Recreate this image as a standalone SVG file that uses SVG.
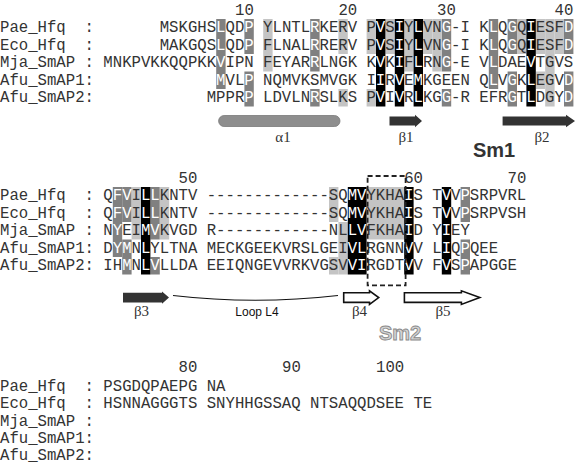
<svg xmlns="http://www.w3.org/2000/svg" width="576" height="465" viewBox="0 0 576 465" xml:space="preserve">
<style>
.s{font-family:"Liberation Mono","Courier New",monospace;font-size:15.67px;fill:#333;white-space:pre}
.w{fill:#fff}
.dk{fill:#808080}
.bk{fill:#000}
.lt{fill:#c4c4c4}
.gr{font-family:"Liberation Serif","Times New Roman",serif;font-size:15px;fill:#333;text-anchor:middle}
.sm{font-family:"Liberation Sans",Arial,sans-serif;font-size:20px;font-weight:bold;text-anchor:middle}
.ar{fill:#333}
.ow{fill:#fff;stroke:#111;stroke-width:1.6}
</style>
<rect width="576" height="465" fill="#fff"/>
<g id="block1">
<g id="shade1">
<rect class="dk" x="216.2" y="19" width="9.4" height="70"/>
<rect class="dk" x="244.4" y="19" width="9.4" height="35"/>
<rect class="dk" x="244.4" y="71.5" width="9.4" height="35"/>
<rect class="dk" x="310.2" y="19" width="9.4" height="52.5"/>
<rect class="dk" x="310.2" y="89" width="9.4" height="17.5"/>
<rect class="dk" x="441.8" y="19" width="9.4" height="52.5"/>
<rect class="dk" x="441.8" y="89" width="9.4" height="17.5"/>
<rect class="dk" x="488.8" y="19" width="9.4" height="70"/>
<rect class="dk" x="507.6" y="19" width="9.4" height="35"/>
<rect class="dk" x="507.6" y="71.5" width="9.4" height="35"/>
<rect class="dk" x="564" y="19" width="9.4" height="35"/>
<rect class="dk" x="564" y="71.5" width="9.4" height="35"/>
<rect class="lt" x="263.2" y="19" width="9.4" height="52.5"/>
<rect class="lt" x="338.4" y="19" width="9.4" height="35"/>
<rect class="lt" x="338.4" y="89" width="9.4" height="17.5"/>
<rect class="lt" x="366.6" y="19" width="9.4" height="35"/>
<rect class="lt" x="366.6" y="89" width="9.4" height="17.5"/>
<rect class="lt" x="385.4" y="19" width="9.4" height="35"/>
<rect class="lt" x="404.2" y="19" width="9.4" height="52.5"/>
<rect class="lt" x="423" y="19" width="9.4" height="35"/>
<rect class="lt" x="432.4" y="19" width="9.4" height="52.5"/>
<rect class="lt" x="517" y="19" width="9.4" height="35"/>
<rect class="lt" x="535.8" y="19" width="9.4" height="35"/>
<rect class="lt" x="535.8" y="71.5" width="9.4" height="17.5"/>
<rect class="lt" x="545.2" y="19" width="9.4" height="87.5"/>
<rect class="lt" x="554.6" y="19" width="9.4" height="35"/>
<rect class="bk" x="376" y="19" width="9.4" height="87.5"/>
<rect class="bk" x="394.8" y="19" width="9.4" height="87.5"/>
<rect class="bk" x="413.6" y="19" width="9.4" height="87.5"/>
<rect class="bk" x="526.4" y="19" width="9.4" height="87.5"/>
</g>
<text class="s" x="235" y="15">10</text>
<text class="s" x="338.4" y="15">20</text>
<text class="s" x="437" y="15">30</text>
<text class="s" x="554.6" y="15">40</text>
<text class="s" x="0" y="32">Pae_Hfq  :       MSKGHS<tspan class="w">L</tspan>QD<tspan class="w">P</tspan> YLNTL<tspan class="w">R</tspan>KERV P<tspan class="w">V</tspan>S<tspan class="w">I</tspan>Y<tspan class="w">L</tspan>VN<tspan class="w">G</tspan>-I K<tspan class="w">L</tspan>Q<tspan class="w">G</tspan>Q<tspan class="w">I</tspan>ESF<tspan class="w">D</tspan></text>
<text class="s" x="0" y="49.5">Eco_Hfq  :       MAKGQS<tspan class="w">L</tspan>QD<tspan class="w">P</tspan> FLNAL<tspan class="w">R</tspan>RERV P<tspan class="w">V</tspan>S<tspan class="w">I</tspan>Y<tspan class="w">L</tspan>VN<tspan class="w">G</tspan>-I K<tspan class="w">L</tspan>Q<tspan class="w">G</tspan>Q<tspan class="w">I</tspan>ESF<tspan class="w">D</tspan></text>
<text class="s" x="0" y="67">Mja_SmAP : MNKPVKKQQPKK<tspan class="w">V</tspan>IPN FEYAR<tspan class="w">R</tspan>LNGK K<tspan class="w">V</tspan>K<tspan class="w">I</tspan>F<tspan class="w">L</tspan>RN<tspan class="w">G</tspan>-E V<tspan class="w">L</tspan>DAE<tspan class="w">V</tspan>TGVS</text>
<text class="s" x="0" y="84.5">Afu_SmAP1:             <tspan class="w">M</tspan>VL<tspan class="w">P</tspan> NQMVKSMVGK I<tspan class="w">I</tspan>R<tspan class="w">V</tspan>E<tspan class="w">M</tspan>KGEEN Q<tspan class="w">L</tspan>V<tspan class="w">G</tspan>K<tspan class="w">L</tspan>EGV<tspan class="w">D</tspan></text>
<text class="s" x="0" y="102">Afu_SmAP2:            MPPR<tspan class="w">P</tspan> LDVLN<tspan class="w">R</tspan>SLKS P<tspan class="w">V</tspan>I<tspan class="w">V</tspan>R<tspan class="w">L</tspan>KG<tspan class="w">G</tspan>-R EFR<tspan class="w">G</tspan>T<tspan class="w">L</tspan>DGY<tspan class="w">D</tspan></text>
<g id="ss1">
<rect x="218.6" y="115.5" width="121.4" height="11" rx="5.5" fill="#8e8e8e" stroke="#7a7a7a" stroke-width="0.8"/>
<text class="gr" x="283" y="142">α1</text>
<polygon class="ar" points="389.5,116.6 415,116.6 415,114.8 422,121 415,127.3 415,125.4 389.5,125.4"/>
<text class="gr" x="406" y="142">β1</text>
<polygon class="ar" points="502.6,116.6 566,116.6 566,114.8 575,121 566,127.3 566,125.4 502.6,125.4"/>
<text class="gr" x="542" y="142">β2</text>
<text class="sm" x="494" y="157" fill="#333">Sm1</text>
</g>
</g>
<g id="block2">
<g id="shade2">
<rect class="dk" x="112.8" y="187" width="9.4" height="70"/>
<rect class="dk" x="122.2" y="187" width="9.4" height="35"/>
<rect class="dk" x="122.2" y="239.5" width="9.4" height="35"/>
<rect class="dk" x="150.4" y="187" width="9.4" height="52.5"/>
<rect class="dk" x="150.4" y="257" width="9.4" height="17.5"/>
<rect class="dk" x="460.6" y="187" width="9.4" height="35"/>
<rect class="dk" x="460.6" y="239.5" width="9.4" height="35"/>
<rect class="lt" x="131.6" y="187" width="9.4" height="52.5"/>
<rect class="lt" x="159.8" y="187" width="9.4" height="52.5"/>
<rect class="lt" x="329" y="187" width="9.4" height="35"/>
<rect class="lt" x="329" y="257" width="9.4" height="17.5"/>
<rect class="lt" x="338.4" y="222" width="9.4" height="52.5"/>
<rect class="lt" x="366.6" y="187" width="37.6" height="52.5"/>
<rect class="bk" x="141" y="187" width="9.4" height="87.5"/>
<rect class="bk" x="347.8" y="187" width="18.8" height="87.5"/>
<rect class="bk" x="404.2" y="187" width="9.4" height="87.5"/>
<rect class="bk" x="441.8" y="187" width="9.4" height="87.5"/>
</g>
<text class="s" x="178.6" y="183">50</text>
<text class="s" x="404.2" y="183">60</text>
<text class="s" x="507.6" y="183">70</text>
<text class="s" x="0" y="200">Pae_Hfq  : Q<tspan class="w">FV</tspan>I<tspan class="w">LL</tspan>KNTV -------------SQ<tspan class="w">MV</tspan>YKHA<tspan class="w">I</tspan>S T<tspan class="w">V</tspan>V<tspan class="w">P</tspan>SRPVRL</text>
<text class="s" x="0" y="217.5">Eco_Hfq  : Q<tspan class="w">FV</tspan>I<tspan class="w">LL</tspan>KNTV -------------SQ<tspan class="w">MV</tspan>YKHA<tspan class="w">I</tspan>S T<tspan class="w">V</tspan>V<tspan class="w">P</tspan>SRPVSH</text>
<text class="s" x="0" y="235">Mja_SmAP : N<tspan class="w">Y</tspan>EI<tspan class="w">MV</tspan>KVGD R------------NL<tspan class="w">LV</tspan>FKHA<tspan class="w">I</tspan>D Y<tspan class="w">I</tspan>EY</text>
<text class="s" x="0" y="252.5">Afu_SmAP1: D<tspan class="w">YM</tspan>N<tspan class="w">L</tspan>YLTNA MECKGEEKVRSLGEI<tspan class="w">VL</tspan>RGNN<tspan class="w">V</tspan>V L<tspan class="w">I</tspan>Q<tspan class="w">P</tspan>QEE</text>
<text class="s" x="0" y="270">Afu_SmAP2: IH<tspan class="w">M</tspan>N<tspan class="w">LV</tspan>LLDA EEIQNGEVVRKVGSV<tspan class="w">VI</tspan>RGDT<tspan class="w">V</tspan>V F<tspan class="w">V</tspan>S<tspan class="w">P</tspan>APGGE</text>
<rect id="sm2box" x="367.6" y="176" width="38" height="109.4" fill="none" stroke="#222" stroke-width="1.8" stroke-dasharray="5 3"/>
<g id="ss2">
<polygon class="ar" points="123,292.8 162,292.8 162,291.5 169,297.6 162,303.7 162,302.4 123,302.4"/>
<text class="gr" x="141.5" y="316">β3</text>
<path d="M173,295.5 Q255,305 338,295.5" fill="none" stroke="#111" stroke-width="1.2"/>
<text x="257" y="316" font-family="Liberation Sans, Arial, sans-serif" font-size="12" text-anchor="middle" fill="#111">Loop L4</text>
<polygon class="ow" points="343.7,292.8 369.5,292.8 369.5,290.8 378.7,297.6 369.5,304.4 369.5,302.4 343.7,302.4"/>
<text class="gr" x="359.5" y="316">β4</text>
<polygon class="ow" points="404.4,292.8 461.4,292.8 461.4,290.8 479.8,297.6 461.4,304.4 461.4,302.4 404.4,302.4"/>
<text class="gr" x="443" y="316">β5</text>
<text class="sm" x="400" y="340" fill="#d4d4d4" stroke="#8a8a8a" stroke-width="0.9">Sm2</text>
</g>
</g>
<g id="block3">
<text class="s" x="178.6" y="372">80</text>
<text class="s" x="282" y="372">90</text>
<text class="s" x="376" y="372">100</text>
<text class="s" x="0" y="390.5">Pae_Hfq  : PSGDQPAEPG NA</text>
<text class="s" x="0" y="408">Eco_Hfq  : HSNNAGGGTS SNYHHGSSAQ NTSAQQDSEE TE</text>
<text class="s" x="0" y="425.5">Mja_SmAP :</text>
<text class="s" x="0" y="443">Afu_SmAP1:</text>
<text class="s" x="0" y="460">Afu_SmAP2:</text>
</g>
</svg>
